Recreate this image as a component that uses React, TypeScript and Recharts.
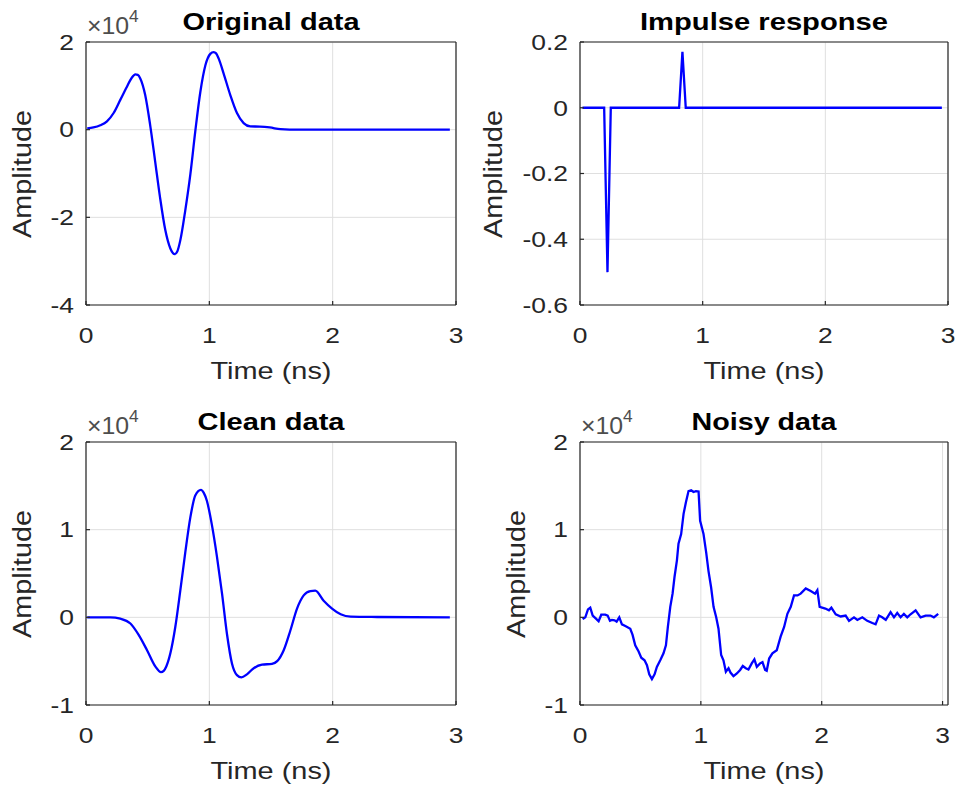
import React from 'react';
import { LineChart, Line, XAxis, YAxis, CartesianGrid } from 'recharts';

const FONT = '"Liberation Sans", Arial, Helvetica, sans-serif';
const INK = '#262626';
const GRID = '#dfdfdf';
const BLUE = '#0000ff';

// ---------- data ----------
const timeTicks = [0, 1, 2, 3];

const originalTime = [0.01, 0.06, 0.116, 0.17, 0.224, 0.278, 0.332, 0.37, 0.4, 0.42, 0.44, 0.48, 0.52, 0.56, 0.6, 0.643, 0.684, 0.72, 0.74, 0.765, 0.805, 0.846, 0.886, 0.927, 0.968, 1.008, 1.035, 1.055, 1.076, 1.116, 1.17, 1.224, 1.278, 1.332, 1.41, 1.49, 1.576, 1.65, 2.95];
const originalAmplitude = [300, 500, 1000, 1900, 3800, 6800, 9800, 11800, 12600, 12500, 11700, 7900, 1100, -7100, -15400, -22900, -27100, -28400, -27800, -25200, -18400, -10200, -400, 8600, 14700, 17300, 17700, 17400, 16200, 12800, 7900, 3800, 1500, 750, 700, 500, 100, 0, 0];
const originalTicks = [-40000, -20000, 0, 20000];

const impulseTime = [0.02, 0.197, 0.224, 0.251, 0.808, 0.835, 0.862, 2.95];
const impulseAmplitude = [0, 0, -0.5, 0, 0, 0.17, 0, 0];
const impulseTicks = [-0.6, -0.4, -0.2, 0, 0.2];

const cleanTime = [0.01, 0.197, 0.278, 0.36, 0.427, 0.495, 0.562, 0.608, 0.63, 0.651, 0.684, 0.724, 0.765, 0.805, 0.846, 0.886, 0.932, 0.955, 0.98, 1.02, 1.062, 1.103, 1.143, 1.184, 1.224, 1.26, 1.305, 1.36, 1.427, 1.508, 1.55, 1.603, 1.657, 1.711, 1.765, 1.819, 1.859, 1.927, 1.995, 2.065, 2.146, 2.36, 2.95];
const cleanAmplitude = [0, 0, -150, -700, -2000, -3750, -5600, -6250, -6100, -5600, -4100, -1100, 3100, 7400, 11400, 13900, 14550, 14200, 13300, 10600, 6900, 2700, -1900, -5300, -6600, -6850, -6500, -5800, -5400, -5300, -5000, -3750, -1500, 1000, 2500, 3000, 3050, 1900, 1000, 350, 80, 40, 0];
const cleanTicks = [-10000, 0, 10000, 20000];

const noisyTime = [0.022, 0.044, 0.066, 0.085, 0.105, 0.132, 0.154, 0.176, 0.209, 0.229, 0.248, 0.264, 0.286, 0.303, 0.325, 0.347, 0.375, 0.416, 0.435, 0.457, 0.485, 0.507, 0.534, 0.554, 0.573, 0.595, 0.617, 0.636, 0.664, 0.691, 0.711, 0.727, 0.747, 0.766, 0.782, 0.802, 0.815, 0.837, 0.857, 0.876, 0.898, 0.92, 0.939, 0.959, 0.981, 0.994, 1.022, 1.044, 1.063, 1.085, 1.105, 1.127, 1.146, 1.168, 1.187, 1.207, 1.229, 1.245, 1.27, 1.298, 1.325, 1.347, 1.372, 1.394, 1.421, 1.443, 1.463, 1.49, 1.51, 1.532, 1.545, 1.565, 1.592, 1.628, 1.66, 1.689, 1.716, 1.744, 1.771, 1.8, 1.826, 1.868, 1.909, 1.945, 1.964, 1.983, 2.03, 2.06, 2.08, 2.116, 2.157, 2.198, 2.226, 2.267, 2.295, 2.336, 2.377, 2.419, 2.446, 2.474, 2.5, 2.53, 2.57, 2.598, 2.625, 2.653, 2.68, 2.708, 2.735, 2.777, 2.818, 2.86, 2.9, 2.928, 2.964];
const noisyAmplitude = [-200, 0, 900, 1100, 200, -150, -450, 300, 300, 200, -400, -300, -350, -500, 0, -800, -1000, -1300, -2000, -3200, -3900, -4600, -4900, -5450, -6500, -7050, -6500, -5650, -4900, -4100, -3200, -1100, 1200, 2700, 4600, 6500, 8400, 9500, 11800, 13100, 14400, 14500, 14300, 14400, 14350, 11000, 9500, 7400, 5300, 3400, 1200, 0, -1300, -4300, -4900, -6200, -5800, -6300, -6700, -6400, -6000, -5550, -5800, -5950, -5250, -4800, -5650, -5250, -5100, -6000, -6100, -4700, -4100, -3750, -2200, -1100, 400, 1200, 2500, 2500, 2700, 3300, 3000, 2700, 3100, 1200, 1000, 800, 1100, 350, 100, 200, -400, 0, -300, 0, -400, -650, -800, 200, 0, -300, 600, 0, 500, 0, 400, 0, 350, 800, 0, 200, 200, 0, 400];
const noisyTicks = [-10000, 0, 10000, 20000];

const zip = (t: number[], a: number[]) => t.map((x, i) => ({ t: x, a: a[i] }));

const fmt1e4 = (v: number) => String(Math.round(v / 1000) / 10);
const fmtPlain = (v: number) => String(Math.round(v * 10) / 10);

// ---------- panel ----------
type PanelProps = {
  left: number; top: number; width: number; height: number;
  plotLeft: number; plotRight: number; plotTop: number; plotBottom: number;
  data: { t: number; a: number }[];
  xDomain: [number, number];
  yDomain: [number, number];
  yTicks: number[];
  yFormat: (v: number) => string;
  curve: 'linear' | 'monotone';
};

const TICK_FS = 22;
const TICK_SX = 1.2;

function Panel(p: PanelProps) {
  const xTick = (props: any) => (
    <text
      transform={`translate(${props.x},${p.plotBottom + 38}) scale(${TICK_SX},1)`}
      textAnchor="middle" fontSize={TICK_FS} fontFamily={FONT} fill={INK}
    >
      {String(props.payload.value)}
    </text>
  );
  const yTick = (props: any) => (
    <text
      transform={`translate(${p.plotLeft - 12},${props.y + 7.8}) scale(${TICK_SX},1)`}
      textAnchor="end" fontSize={TICK_FS} fontFamily={FONT} fill={INK}
    >
      {p.yFormat(props.payload.value)}
    </text>
  );
  return (
    <div style={{ position: 'absolute', left: p.left, top: p.top, width: p.width, height: p.height }}>
      <LineChart
        width={p.width}
        height={p.height}
        data={p.data}
        margin={{
          top: p.plotTop - 1,
          left: p.plotLeft - 1,
          right: p.width - p.plotRight - 1,
          bottom: p.height - p.plotBottom - 1,
        }}
      >
        <CartesianGrid stroke={GRID} strokeWidth={1} />
        <Line
          type={p.curve}
          dataKey="a"
          stroke={BLUE}
          strokeWidth={2.3}
          dot={false}
          isAnimationActive={false}
        />
        <XAxis
          dataKey="t" type="number" domain={p.xDomain} ticks={timeTicks} interval={0}
          allowDataOverflow height={1} stroke={INK} strokeWidth={1.2} tickSize={-4} tick={xTick}
        />
        <XAxis
          xAxisId="top" orientation="top" dataKey="t" type="number" domain={p.xDomain}
          ticks={timeTicks} interval={0} allowDataOverflow height={1} stroke={INK} strokeWidth={1.2}
          tickSize={-4} tick={false}
        />
        <YAxis
          dataKey="a" type="number" domain={p.yDomain} ticks={p.yTicks} interval={0}
          allowDataOverflow width={1} stroke={INK} strokeWidth={1.2} tickSize={-4} tick={yTick}
        />
        <YAxis
          yAxisId="right" orientation="right" dataKey="a" type="number" domain={p.yDomain}
          ticks={p.yTicks} interval={0} allowDataOverflow width={1} stroke={INK} strokeWidth={1.2}
          tickSize={-4} tick={false}
        />
      </LineChart>
    </div>
  );
}

const Exponent = ({ x, y }: { x: number; y: number }) => (
  <text transform={`translate(${x},${y}) scale(1.08,1)`} fontFamily={FONT} fontSize={23} fill="#4d4d4d">
    <tspan>×10</tspan>
    <tspan fontSize={16} dy={-12}>4</tspan>
  </text>
);

const Title = ({ x, y, text, len }: { x: number; y: number; text: string; len: number }) => (
  <text x={x} y={y} textAnchor="middle" fontFamily={FONT} fontWeight="bold" fontSize={24.5}
    fill="#000" textLength={len} lengthAdjust="spacingAndGlyphs">{text}</text>
);

const XLabel = ({ x, y }: { x: number; y: number }) => (
  <text x={x} y={y} textAnchor="middle" fontFamily={FONT} fontSize={24.5} fill={INK}
    textLength={121} lengthAdjust="spacingAndGlyphs">Time (ns)</text>
);

const YLabel = ({ x, y }: { x: number; y: number }) => (
  <text transform={`translate(${x},${y}) rotate(-90)`} textAnchor="middle" fontFamily={FONT}
    fontSize={25} fill={INK} textLength={128} lengthAdjust="spacingAndGlyphs">Amplitude</text>
);

export default function App() {
  return (
    <div style={{ position: 'absolute', left: 0, top: 0, width: 958, height: 793, overflow: 'hidden', background: '#fff' }}>
      <Panel left={0} top={0} width={479} height={400} plotLeft={86} plotRight={456} plotTop={42} plotBottom={305}
        data={zip(originalTime, originalAmplitude)} xDomain={[0, 3]} yDomain={[-40000, 20000]}
        yTicks={originalTicks} yFormat={fmt1e4} curve="monotone" />
      <Panel left={479} top={0} width={479} height={400} plotLeft={101} plotRight={469} plotTop={42} plotBottom={305}
        data={zip(impulseTime, impulseAmplitude)} xDomain={[0, 3]} yDomain={[-0.6, 0.2]}
        yTicks={impulseTicks} yFormat={fmtPlain} curve="linear" />
      <Panel left={0} top={400} width={479} height={393} plotLeft={86} plotRight={456} plotTop={42} plotBottom={305}
        data={zip(cleanTime, cleanAmplitude)} xDomain={[0, 3]} yDomain={[-10000, 20000]}
        yTicks={cleanTicks} yFormat={fmt1e4} curve="monotone" />
      <Panel left={479} top={400} width={479} height={393} plotLeft={101} plotRight={469} plotTop={42} plotBottom={305}
        data={zip(noisyTime, noisyAmplitude)} xDomain={[0, 3.045]} yDomain={[-10000, 20000]}
        yTicks={noisyTicks} yFormat={fmt1e4} curve="linear" />
      <svg width={958} height={793} style={{ position: 'absolute', left: 0, top: 0, pointerEvents: 'none' }}>
        <Title x={271} y={29.5} text="Original data" len={177} />
        <Title x={764} y={29.5} text="Impulse response" len={248} />
        <Title x={271} y={429.5} text="Clean data" len={147} />
        <Title x={764} y={429.5} text="Noisy data" len={145} />
        <Exponent x={87} y={34.3} />
        <Exponent x={87} y={434} />
        <Exponent x={581} y={434} />
        <XLabel x={271} y={379} />
        <XLabel x={764} y={379} />
        <XLabel x={271} y={779} />
        <XLabel x={764} y={779} />
        <YLabel x={30.5} y={174} />
        <YLabel x={501.5} y={174} />
        <YLabel x={30.5} y={574} />
        <YLabel x={524.5} y={574} />
      </svg>
    </div>
  );
}
